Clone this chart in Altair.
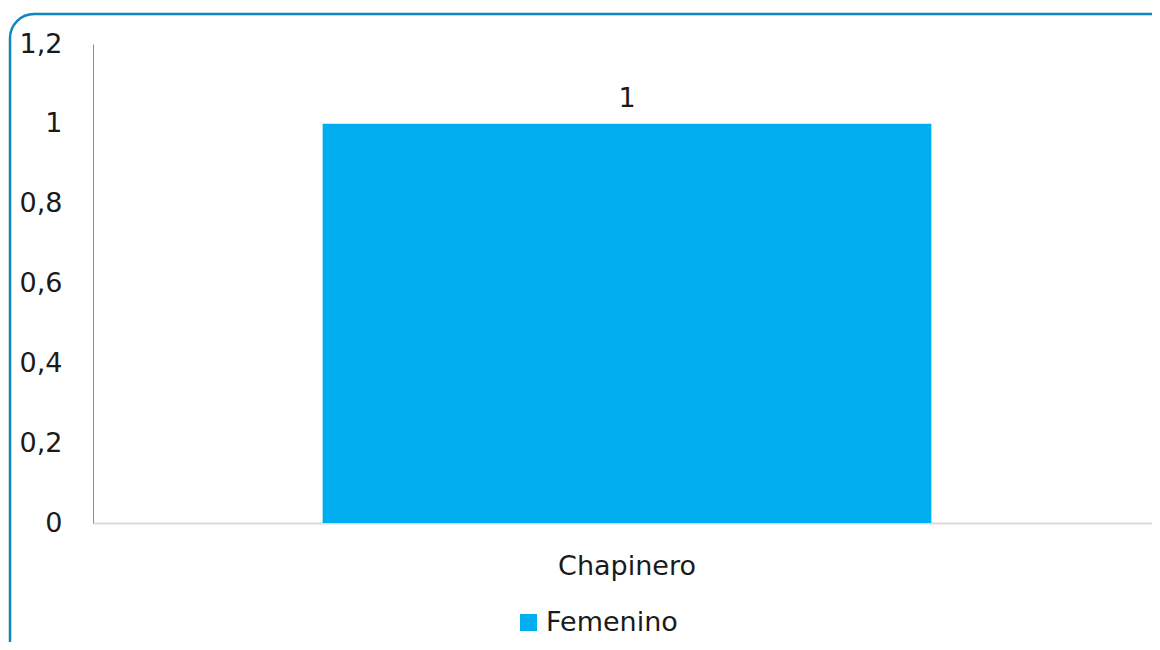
import altair as alt
import pandas as pd

categories = ["Chapinero"]
series = ["Femenino"]
values = [1]
y_ticks = [0, 0.2, 0.4, 0.6, 0.8, 1.0, 1.2]

df = pd.DataFrame({"zona": categories, "serie": series, "valor": values})

FONT = "DejaVu Sans"
FS = 27
TXT = "#1a1a1a"
W, H = 1059, 479

base = alt.Chart(df)

x_enc = alt.X(
    "zona:N",
    scale=alt.Scale(paddingInner=0.27, paddingOuter=0.27, align=0.51),
    axis=alt.Axis(title=None, labelAngle=0, ticks=False, domainColor="#d9d9d9",
                  domainWidth=2, labelPadding=30, labelFontSize=FS,
                  labelColor=TXT, labelFont=FONT, grid=False),
)
y_enc = alt.Y(
    "valor:Q",
    scale=alt.Scale(domain=[0, 1.2]),
    axis=alt.Axis(title=None, values=y_ticks, ticks=False, grid=False,
                  domainColor="#8c8c8c", domainWidth=1, labelPadding=31,
                  labelFontSize=FS, labelColor=TXT, labelFont=FONT,
                  labelExpr="replace(format(datum.value, '.1~f'), '.', ',')"),
)

bars = base.mark_bar().encode(
    x=x_enc,
    y=y_enc,
    color=alt.Color(
        "serie:N",
        scale=alt.Scale(range=["#00AEEF"]),
        legend=alt.Legend(title=None, orient="none", legendX=422, legendY=565,
                          symbolType="square", symbolSize=289, symbolStrokeWidth=0,
                          symbolOpacity=1, labelFontSize=FS, labelFont=FONT,
                          labelColor=TXT, labelOffset=4),
    ),
)

labels = base.mark_text(baseline="bottom", dy=-11, fontSize=FS, font=FONT, color=TXT).encode(
    x=x_enc,
    y=y_enc,
    text="valor:Q",
)

border = alt.Chart(pd.DataFrame({"a": [0]})).mark_rect(
    fillOpacity=0, stroke="#0E86C1", strokeWidth=2.5, cornerRadius=24
).encode(
    x=alt.value(-83), x2=alt.value(1085), y=alt.value(-30), y2=alt.value(660)
)

chart = (
    alt.layer(border, bars, labels)
    .properties(
        width=W, height=H, autosize="none", background="white",
        padding={"left": 85, "top": 36, "right": 0, "bottom": 119},
    )
    .configure_view(strokeWidth=0, stroke=None)
    .configure_axis(grid=False)
)

chart.save("out.html", embed_options={"renderer": "svg", "actions": False})
